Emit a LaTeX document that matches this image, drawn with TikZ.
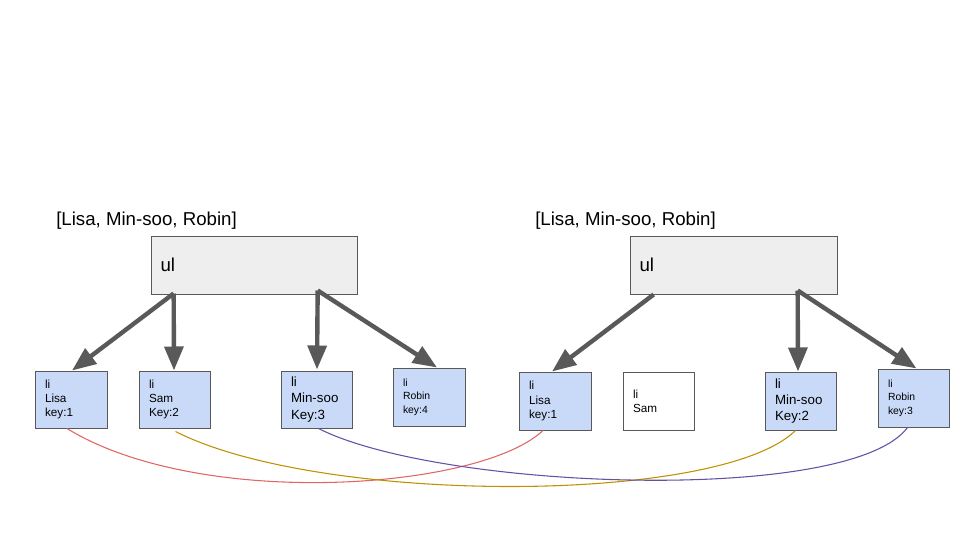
\documentclass[tikz,border=0pt]{standalone}
\usepackage{fontspec}
\setmainfont{Liberation Sans}
\usetikzlibrary{arrows.meta,calc}
\definecolor{boxblue}{HTML}{C9DAF8}
\definecolor{ulgray}{HTML}{EEEEEE}
\definecolor{edge}{HTML}{595959}
\definecolor{cred}{HTML}{E06666}
\definecolor{cyel}{HTML}{BF9000}
\definecolor{cpur}{HTML}{674EA7}
\tikzset{
  libox/.style={draw=edge, line width=0.75pt, fill=boxblue, align=left,
    inner xsep=7.5pt, inner ysep=0pt, text width=39pt, minimum height=42.75pt},
  libig/.style={libox, font=\fontsize{10}{12.2}\selectfont},
  limid/.style={libox, font=\fontsize{8.8}{10.8}\selectfont},
  lismall/.style={libox, font=\fontsize{7.8}{10.2}\selectfont, minimum height=43.5pt},
  ulbox/.style={draw=edge, line width=0.75pt, fill=ulgray, align=left,
    inner xsep=7pt, inner ysep=0pt, text width=141pt, minimum height=43.5pt,
    font=\fontsize{14}{16}\selectfont},
  lbl/.style={anchor=west, inner sep=0pt, font=\fontsize{14}{16}\selectfont},
  arr/.style={draw=edge, line width=3.3pt, -{Triangle[width=14pt,length=18pt]}},
  link/.style={line width=0.8pt}
}
\begin{document}
\begin{tikzpicture}[x=0.75pt,y=-0.75pt]
\useasboundingbox (0,0) rectangle (960,540);
% labels
\node[lbl] (labL) at (56,221) {[Lisa, Min-soo, Robin]};
\node[lbl] (labR) at (535,221) {[Lisa, Min-soo, Robin]};
% ul boxes
\node[ulbox] (ulL) at (254.5,265) {ul};
\node[ulbox, text width=141.75pt] (ulR) at (734,265) {ul};
% left li boxes
\node[limid] (lisaL) at (71,399.5) {li\\Lisa\\key:1};
\node[limid, text width=38.25pt] (samL) at (174.5,399.5) {li\\Sam\\Key:2};
\node[libig, text width=38.25pt] (minL) at (316.5,399.5) {li\\Min-soo\\Key:3};
\node[lismall] (robL) at (429,397) {li\\Robin\\key:4};
% right li boxes
\node[limid, minimum height=43.5pt] (lisaR) at (555,401) {li\\Lisa\\key:1};
\node[limid, fill=white, text width=38.25pt, minimum height=43.5pt] (samR) at (658.5,401) {li\\Sam};
\node[libig, text width=38.25pt, minimum height=43.5pt] (minR) at (800.5,401) {li\\Min-soo\\Key:2};
\node[lismall, text width=38.25pt] (robR) at (913.5,398) {li\\Robin\\key:3};
% arrow start points
\coordinate (sL1) at ($(ulL.south west)+(23,-1)$);
\coordinate (sL2) at ($(ulL.south west)+(167,-4)$);
\coordinate (sR1) at ($(ulR.south west)+(24,0)$);
\coordinate (sR2) at ($(ulR.south west)+(168,-4)$);
\draw[arr] (sL1) -- ($(lisaL.north)+(1,0)$);
\draw[arr] (sL1) -- ($(samL.north)+(-0.5,0)$);
\draw[arr] (sL2) -- ($(minL.north)+(0.5,-1)$);
\draw[arr] (sL2) -- ($(robL.north)+(8,0)$);
\draw[arr] (sR1) -- ($(lisaR.north)+(-3,0)$);
\draw[arr] (sR2) -- ($(minR.north)+(-2.5,0)$);
\draw[arr] (sR2) -- ($(robR.north)+(3,0)$);
% links
\coordinate (rA) at ($(lisaL.south)+(-4,0)$);
\coordinate (rB) at ($(lisaR.south)+(-12,0)$);
\coordinate (yA) at ($(samL.south)+(1,3)$);
\coordinate (yB) at ($(minR.south)+(-5,0)$);
\coordinate (pA) at ($(minL.south)+(2,0)$);
\coordinate (pB) at ($(robR.south)+(-6,0)$);
\draw[link, cred] (rA) .. controls (200,510) and (480,490) .. (rB);
\draw[link, cyel] (yA) .. controls (320,505) and (720,505) .. (yB);
\draw[link, cpur] (pA) .. controls (440,490) and (850,505) .. (pB);
\end{tikzpicture}
\end{document}
